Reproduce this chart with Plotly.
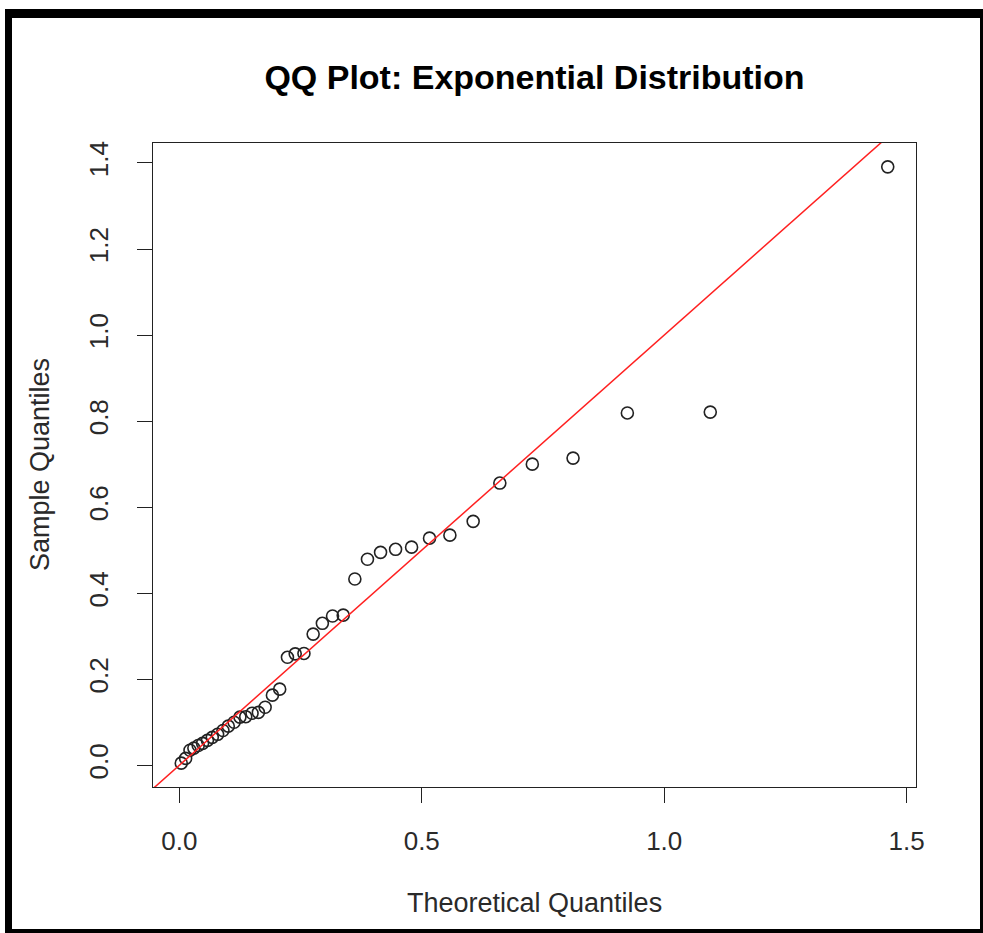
import plotly.graph_objects as go

# Theoretical exponential quantiles (x) and sorted sample values (y)
theoretical = [
    0.004, 0.013, 0.022, 0.030, 0.039, 0.048, 0.058, 0.068, 0.079, 0.090,
    0.101, 0.113, 0.125, 0.137, 0.150, 0.163, 0.177, 0.192, 0.207, 0.223,
    0.239, 0.257, 0.276, 0.295, 0.316, 0.338, 0.362, 0.388, 0.415, 0.446,
    0.479, 0.516, 0.558, 0.606, 0.661, 0.728, 0.812, 0.924, 1.095, 1.461,
]
sample = [
    0.005, 0.016, 0.035, 0.040, 0.046, 0.051, 0.058, 0.065, 0.072, 0.081,
    0.091, 0.100, 0.112, 0.113, 0.121, 0.123, 0.135, 0.163, 0.177, 0.251,
    0.259, 0.260, 0.305, 0.330, 0.347, 0.349, 0.433, 0.479, 0.495, 0.502,
    0.507, 0.528, 0.535, 0.567, 0.656, 0.700, 0.714, 0.819, 0.821, 1.391,
]
x_ticks = [0.0, 0.5, 1.0, 1.5]
y_ticks = [0.0, 0.2, 0.4, 0.6, 0.8, 1.0, 1.2, 1.4]

# Reference line y = intercept + slope * x
line_intercept = 0.0
line_slope = 1.0

W, H = 983, 933
L, R, T, B = 153, 67, 143, 146
PW, PH = W - L - R, H - T - B

# R-style 4% padding around the data range
def padded(vals):
    lo, hi = min(vals), max(vals)
    d = (hi - lo) * 0.04
    return [lo - d, hi + d]

xr = padded(theoretical)
yr = padded(sample)

FONT = "Liberation Sans, Arial, sans-serif"
TEXT = "#2a2a2a"

fig = go.Figure()

fig.add_trace(go.Scatter(
    x=theoretical, y=sample, mode="markers",
    marker=dict(symbol="circle-open", size=12, color="#222222",
                line=dict(width=1.6, color="#222222")),
    hoverinfo="x+y", showlegend=False,
))

lx = [xr[0] - 1, xr[1] + 1]
fig.add_trace(go.Scatter(
    x=lx, y=[line_intercept + line_slope * v for v in lx], mode="lines",
    line=dict(color="#ff2020", width=1.5), hoverinfo="skip", showlegend=False,
))

axis_common = dict(
    showgrid=False, zeroline=False, showline=True, mirror=True,
    linecolor="#222222", linewidth=1.3,
    ticks="outside", ticklen=15, tickwidth=1.3, tickcolor="#222222",
    tickfont=dict(family=FONT, size=26, color=TEXT),
)

fig.update_xaxes(range=xr, tickvals=x_ticks,
                 ticktext=[f"{v:.1f}" for v in x_ticks],
                 ticklabelstandoff=16, **axis_common)
fig.update_yaxes(range=yr, tickvals=y_ticks,
                 ticktext=[f"{v:.1f}" for v in y_ticks],
                 tickangle=-90, ticklabelstandoff=18, **axis_common)

def px_x(p):
    return (p - L) / PW

def px_y(p):
    return (H - B - p) / PH

annotations = [
    dict(text="Theoretical Quantiles", x=0.5, y=px_y(903), xref="paper", yref="paper",
         xanchor="center", yanchor="middle", showarrow=False,
         font=dict(family=FONT, size=27, color=TEXT)),
    dict(text="Sample Quantiles", x=px_x(40), y=0.5, xref="paper", yref="paper",
         xanchor="center", yanchor="middle", showarrow=False, textangle=-90,
         font=dict(family=FONT, size=27, color=TEXT)),
]

# Window frame around the figure
frame = [
    dict(x0=px_x(5), x1=px_x(983), y0=px_y(9), y1=px_y(18), color="#000000"),
    dict(x0=px_x(5), x1=px_x(12), y0=px_y(9), y1=px_y(933), color="#000000"),
    dict(x0=px_x(980), x1=px_x(983), y0=px_y(9), y1=px_y(933), color="#000000"),
    dict(x0=px_x(5), x1=px_x(983), y0=px_y(929), y1=px_y(933), color="#000000"),
]
shapes = [dict(type="rect", xref="paper", yref="paper", x0=f["x0"], x1=f["x1"],
               y0=f["y0"], y1=f["y1"], fillcolor=f["color"], line=dict(width=0),
               layer="above") for f in frame]

fig.update_layout(
    width=W, height=H,
    margin=dict(l=L, r=R, t=T, b=B),
    paper_bgcolor="white", plot_bgcolor="white",
    title=dict(text="<b>QQ Plot: Exponential Distribution</b>",
               x=0.5, xref="paper", y=1 - 77 / H, yref="container",
               xanchor="center", yanchor="middle",
               font=dict(family=FONT, size=34, color="#000000")),
    annotations=annotations,
    shapes=shapes,
)

fig.write_html("out.html")
